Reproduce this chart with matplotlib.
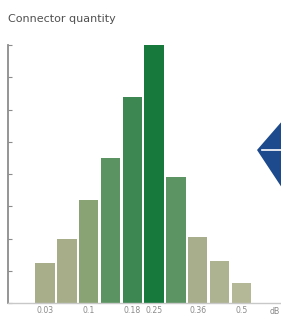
import numpy as np
import matplotlib
matplotlib.use("Agg")
import matplotlib.pyplot as plt
from matplotlib.patches import Polygon

# Bar heights (connector count, arbitrary units)
quantity = [1.25, 2.0, 3.2, 4.5, 6.4, 8.0, 3.9, 2.05, 1.3, 0.62]
bar_colors = ["#a8ad8a", "#a6ad88", "#8aa374", "#5b9462", "#3d8752",
              "#17793c", "#5c9563", "#a8ae8c", "#adb291", "#b5b897"]

# Which bars get a label underneath
label_bars = [0, 2, 4, 5, 7, 9]
tick_labels = ["0.03", "0.1", "0.18", "0.25", "0.36", "0.5"]

W, H = 281, 316
fig = plt.figure(figsize=(W / 100, H / 100), dpi=100)

# axes box in pixels: left 8, right 280, bottom 303, top 45
ax = fig.add_axes([8 / W, (H - 303) / H, (280 - 8) / W, (303 - 45) / H])

x = np.arange(len(quantity))
ax.bar(x, quantity, width=0.89, color=bar_colors, linewidth=0)

ax.set_xlim(-1.70, 10.78)
ax.set_ylim(0, 8)

for s in ["top", "right"]:
    ax.spines[s].set_visible(False)
ax.spines["left"].set_color("#8c8c8c")
ax.spines["left"].set_linewidth(1.3)
ax.spines["bottom"].set_color("#c8c8c8")
ax.spines["bottom"].set_linewidth(1.0)

ax.set_yticks(range(9))
ax.set_yticklabels([])
ax.tick_params(axis="y", direction="in", length=3, width=0.8, color="#8c8c8c")

ax.set_xticks(label_bars)
ax.set_xticklabels(tick_labels, fontsize=5.6, color="#8a8a8a", family="DejaVu Sans")
ax.tick_params(axis="x", length=0, pad=2.5)

# unit label at the end of the x axis
ax.text(270 / W, 1 - 311 / H, "dB", transform=fig.transFigure, ha="left", va="center",
        fontsize=5.6, color="#8a8a8a", family="DejaVu Sans")

fig.text(8 / W, 1 - 19 / H, "Connector quantity", ha="left", va="center",
         fontsize=8, color="#505050", family="DejaVu Sans")

# partial blue logo at the right edge
def px(xp, yp):
    return (xp / W, 1 - yp / H)

logo = Polygon([px(257, 150), px(290, 112), px(315, 150), px(290, 200)],
               closed=True, transform=fig.transFigure, color="#1d4a8c",
               linewidth=0)
fig.patches.append(logo)
fig.add_artist(plt.Line2D([262 / W, 1], [1 - 150 / H, 1 - 150 / H],
                          transform=fig.transFigure, color="white", linewidth=1.2))

fig.savefig("out.png", dpi=100)
